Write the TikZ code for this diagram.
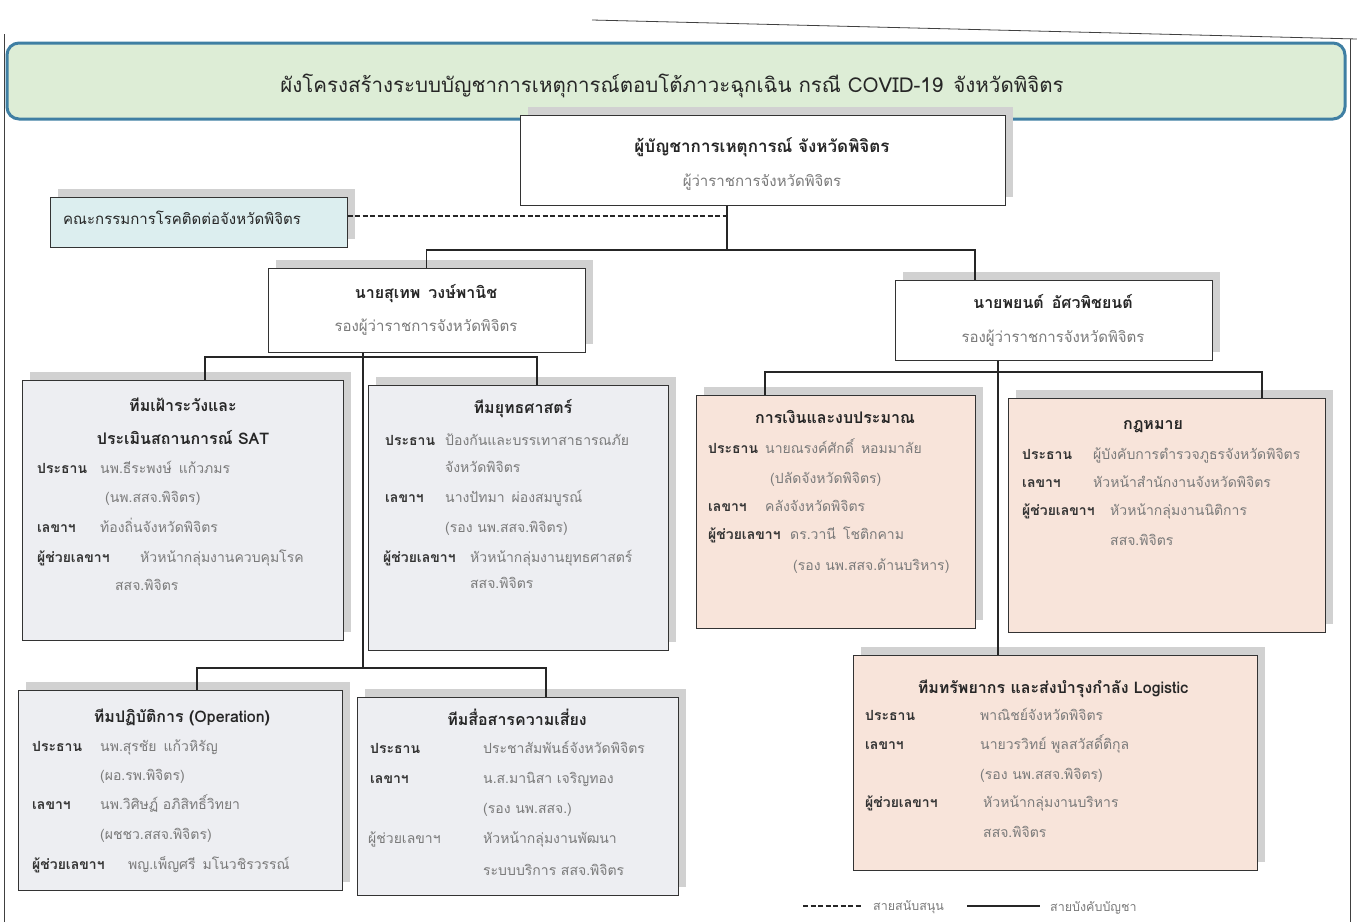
\documentclass[tikz,border=0pt]{standalone}
\usepackage{fontspec}
\setmainfont[Script=Thai]{Loma}
\usetikzlibrary{shadows}
\definecolor{bannerfill}{HTML}{DDEDD6}
\definecolor{bannerline}{HTML}{3F7FA3}
\definecolor{lgray}{HTML}{EDEEF2}
\definecolor{lpink}{HTML}{F8E4DA}
\definecolor{lcyan}{HTML}{DCEEEF}
\definecolor{valgray}{HTML}{7A7A7A}
\tikzset{
  box/.style={draw=black!80, line width=1pt, rectangle, inner sep=0pt,
    drop shadow={shadow xshift=8pt, shadow yshift=8pt, fill=black!18, opacity=1}},
  conn/.style={line width=1.4pt, draw=black!85},
  supp/.style={line width=2pt, draw=black!85, dash pattern=on 5pt off 2.5pt},
  lbl/.style={anchor=base west, inner sep=0pt, font=\bfseries\fontsize{14}{16}\selectfont, text=black!80},
  val/.style={anchor=base west, inner sep=0pt, font=\fontsize{14}{16}\selectfont, text=valgray},
  hd/.style={anchor=base, inner sep=0pt, font=\bfseries\fontsize{16}{18}\selectfont, text=black!85},
  sub/.style={anchor=base, inner sep=0pt, font=\fontsize{15}{17}\selectfont, text=valgray},
}
\begin{document}
\begin{tikzpicture}[x=1pt,y=-1pt]
\useasboundingbox (0,0) rectangle (1357,922);
% page frame
\draw[black!75, line width=0.8pt] (4,922) -- (4,34);
\draw[black!75, line width=0.8pt] (592,20) -- (1357,39);
\draw[black!75, line width=0.8pt] (1350,39) -- (1350,922);
% banner
\node[draw=bannerline, line width=3pt, fill=bannerfill, rounded corners=12pt,
  minimum width=1338pt, minimum height=76pt, inner sep=0pt] (banner) at (676,81) {};
\node[anchor=base, inner sep=0pt, font=\fontsize{20.5}{22}\selectfont, text=black!85] (title) at (672,92)
  {ผังโครงสร้างระบบบัญชาการเหตุการณ์ตอบโต้ภาวะฉุกเฉิน กรณี COVID-19\enspace จังหวัดพิจิตร};

% boxes
\node[box, fill=white, minimum width=485pt, minimum height=90pt] (cmd) at (762.5,160) {};
\node[box, fill=lcyan, minimum width=297pt, minimum height=50pt] (comm) at (198.5,222) {};
\node[box, fill=white, minimum width=317pt, minimum height=84pt] (sutep) at (426.5,310) {};
\node[box, fill=white, minimum width=317pt, minimum height=80pt] (payont) at (1053.5,320) {};
\node[box, fill=lgray, minimum width=321pt, minimum height=260pt] (sat) at (182.5,510) {};
\node[box, fill=lgray, minimum width=300pt, minimum height=265pt] (strat) at (518,517.5) {};
\node[box, fill=lpink, minimum width=279pt, minimum height=233pt] (fin) at (835.5,511.5) {};
\node[box, fill=lpink, minimum width=317pt, minimum height=234pt] (law) at (1166.5,515) {};
\node[box, fill=lgray, minimum width=324pt, minimum height=200pt] (ops) at (180,790) {};
\node[box, fill=lgray, minimum width=321pt, minimum height=198pt] (risk) at (517.5,796) {};
\node[box, fill=lpink, minimum width=404pt, minimum height=215pt] (logi) at (1055,762.5) {};

% junction coordinates
\coordinate (j1) at (727,250);
\coordinate (jd) at (727,216);
\coordinate (j2) at (363,357);
\coordinate (j3) at (363,668);
\coordinate (j4) at (998,372);
\coordinate (xsat) at (205,0);
\coordinate (xstrat) at (537,0);
\coordinate (xops) at (197,0);
\coordinate (xrisk) at (546,0);
\coordinate (xfin) at (765,0);
\coordinate (xlaw) at (1262,0);

% connectors
\draw[conn] (cmd.south -| j1) -- (j1);
\draw[conn] (sutep.north) |- (j1) -| (payont.north -| 975,0);
\draw[supp] (comm.east |- jd) -- (jd);
\draw[conn] (sutep.south -| j2) -- (j3);
\draw[conn] (sat.north -| xsat) |- (j2) -| (strat.north -| xstrat);
\draw[conn] (ops.north -| xops) |- (j3) -| (risk.north -| xrisk);
\draw[conn] (payont.south -| j4) -- (logi.north -| j4);
\draw[conn] (fin.north -| xfin) |- (j4) -| (law.north -| xlaw);

% command box text
\node[hd, font=\bfseries\fontsize{17}{19}\selectfont] (cmd1) at (762,152) {ผู้บัญชาการเหตุการณ์ จังหวัดพิจิตร};
\node[sub] (cmd2) at (762,186) {ผู้ว่าราชการจังหวัดพิจิตร};
\node[anchor=base west, inner sep=0pt, font=\fontsize{15}{17}\selectfont, text=black!85] (comm1) at (63,224) {คณะกรรมการโรคติดต่อจังหวัดพิจิตร};
\node[hd] (sut1) at (426,298) {นายสุเทพ\enspace วงษ์พานิช};
\node[sub] (sut2) at (426,331) {รองผู้ว่าราชการจังหวัดพิจิตร};
\node[hd] (pay1) at (1053,308) {นายพยนต์\enspace อัศวพิชยนต์};
\node[sub] (pay2) at (1053,342) {รองผู้ว่าราชการจังหวัดพิจิตร};

% SAT
\node[hd] (sath1) at (183,411) {ทีมเฝ้าระวังและ};
\node[hd] (sath2) at (183,444) {ประเมินสถานการณ์ SAT};
\node[lbl] (satl1) at (37,473) {ประธาน};
\node[val] (satv1) at (100,473) {นพ.ธีระพงษ์\enspace แก้วภมร};
\node[val] (satv2) at (105,502) {(นพ.สสจ.พิจิตร)};
\node[lbl] (satl2) at (37,532) {เลขาฯ};
\node[val] (satv3) at (100,532) {ท้องถิ่นจังหวัดพิจิตร};
\node[lbl] (satl3) at (37,562) {ผู้ช่วยเลขาฯ};
\node[val] (satv4) at (140,562) {หัวหน้ากลุ่มงานควบคุมโรค};
\node[val] (satv5) at (115,590) {สสจ.พิจิตร};

% strategy
\node[hd] (sth) at (523,413) {ทีมยุทธศาสตร์};
\node[lbl] (stl1) at (385,445) {ประธาน};
\node[val] (stv1) at (445,445) {ป้องกันและบรรเทาสาธารณภัย};
\node[val] (stv2) at (445,472) {จังหวัดพิจิตร};
\node[lbl] (stl2) at (385,502) {เลขาฯ};
\node[val] (stv3) at (445,502) {นางปัทมา\enspace ผ่องสมบูรณ์};
\node[val] (stv4) at (445,532) {(รอง นพ.สสจ.พิจิตร)};
\node[lbl] (stl3) at (383,562) {ผู้ช่วยเลขาฯ};
\node[val] (stv5) at (470,562) {หัวหน้ากลุ่มงานยุทธศาสตร์};
\node[val] (stv6) at (470,588) {สสจ.พิจิตร};

% finance
\node[hd] (fnh) at (835,423) {การเงินและงบประมาณ};
\node[lbl] (fnl1) at (708,453) {ประธาน};
\node[val] (fnv1) at (765,453) {นายณรงค์ศักดิ์\enspace หอมมาลัย};
\node[val] (fnv2) at (770,483) {(ปลัดจังหวัดพิจิตร)};
\node[lbl] (fnl2) at (708,511) {เลขาฯ};
\node[val] (fnv3) at (765,511) {คลังจังหวัดพิจิตร};
\node[lbl] (fnl3) at (708,539) {ผู้ช่วยเลขาฯ};
\node[val] (fnv4) at (790,539) {ดร.วานี\enspace โชติกคาม};
\node[val] (fnv5) at (793,570) {(รอง นพ.สสจ.ด้านบริหาร)};

% law
\node[hd] (lwh) at (1153,429) {กฎหมาย};
\node[lbl] (lwl1) at (1022,459) {ประธาน};
\node[val] (lwv1) at (1093,459) {ผู้บังคับการตำรวจภูธรจังหวัดพิจิตร};
\node[lbl] (lwl2) at (1022,487) {เลขาฯ};
\node[val] (lwv2) at (1093,487) {หัวหน้าสำนักงานจังหวัดพิจิตร};
\node[lbl] (lwl3) at (1022,515) {ผู้ช่วยเลขาฯ};
\node[val] (lwv3) at (1110,515) {หัวหน้ากลุ่มงานนิติการ};
\node[val] (lwv4) at (1110,545) {สสจ.พิจิตร};

% operation
\node[hd] (oph) at (182,722) {ทีมปฏิบัติการ (Operation)};
\node[lbl] (opl1) at (32,751) {ประธาน};
\node[val] (opv1) at (100,751) {นพ.สุรชัย\enspace แก้วหิรัญ};
\node[val] (opv2) at (100,780) {(ผอ.รพ.พิจิตร)};
\node[lbl] (opl2) at (32,809) {เลขาฯ};
\node[val] (opv3) at (100,809) {นพ.วิศิษฏ์ อภิสิทธิ์วิทยา};
\node[val] (opv4) at (100,839) {(ผชชว.สสจ.พิจิตร)};
\node[lbl] (opl3) at (32,869) {ผู้ช่วยเลขาฯ};
\node[val] (opv5) at (128,869) {พญ.เพ็ญศรี\enspace มโนวชิรวรรณ์};

% risk communication
\node[hd] (rkh) at (517,725) {ทีมสื่อสารความเสี่ยง};
\node[lbl] (rkl1) at (370,753) {ประธาน};
\node[val] (rkv1) at (483,753) {ประชาสัมพันธ์จังหวัดพิจิตร};
\node[lbl] (rkl2) at (370,783) {เลขาฯ};
\node[val] (rkv2) at (483,783) {น.ส.มานิสา เจริญทอง};
\node[val] (rkv3) at (483,813) {(รอง นพ.สสจ.)};
\node[val] (rkl3) at (368,843) {ผู้ช่วยเลขาฯ};
\node[val] (rkv4) at (483,843) {หัวหน้ากลุ่มงานพัฒนา};
\node[val] (rkv5) at (483,875) {ระบบบริการ สสจ.พิจิตร};

% logistic
\node[hd] (lgh) at (1053,693) {ทีมทรัพยากร และส่งบำรุงกำลัง Logistic};
\node[lbl] (lgl1) at (865,720) {ประธาน};
\node[val] (lgv1) at (980,720) {พาณิชย์จังหวัดพิจิตร};
\node[lbl] (lgl2) at (865,749) {เลขาฯ};
\node[val] (lgv2) at (980,749) {นายวรวิทย์ พูลสวัสดิ์ติกุล};
\node[val] (lgv3) at (980,779) {(รอง นพ.สสจ.พิจิตร)};
\node[lbl] (lgl3) at (865,807) {ผู้ช่วยเลขาฯ};
\node[val] (lgv4) at (983,807) {หัวหน้ากลุ่มงานบริหาร};
\node[val] (lgv5) at (983,837) {สสจ.พิจิตร};

% legend
\coordinate (lg1a) at (803,906);
\coordinate (lg1b) at (862,906);
\coordinate (lg2a) at (967,906);
\coordinate (lg2b) at (1040,906);
\draw[supp] (lg1a) -- (lg1b);
\node[val, font=\fontsize{12.5}{14}\selectfont] (leg1) at (873,910) {สายสนับสนุน};
\draw[conn] (lg2a) -- (lg2b);
\node[val, font=\fontsize{12.5}{14}\selectfont] (leg2) at (1050,911) {สายบังคับบัญชา};
\end{tikzpicture}
\end{document}
